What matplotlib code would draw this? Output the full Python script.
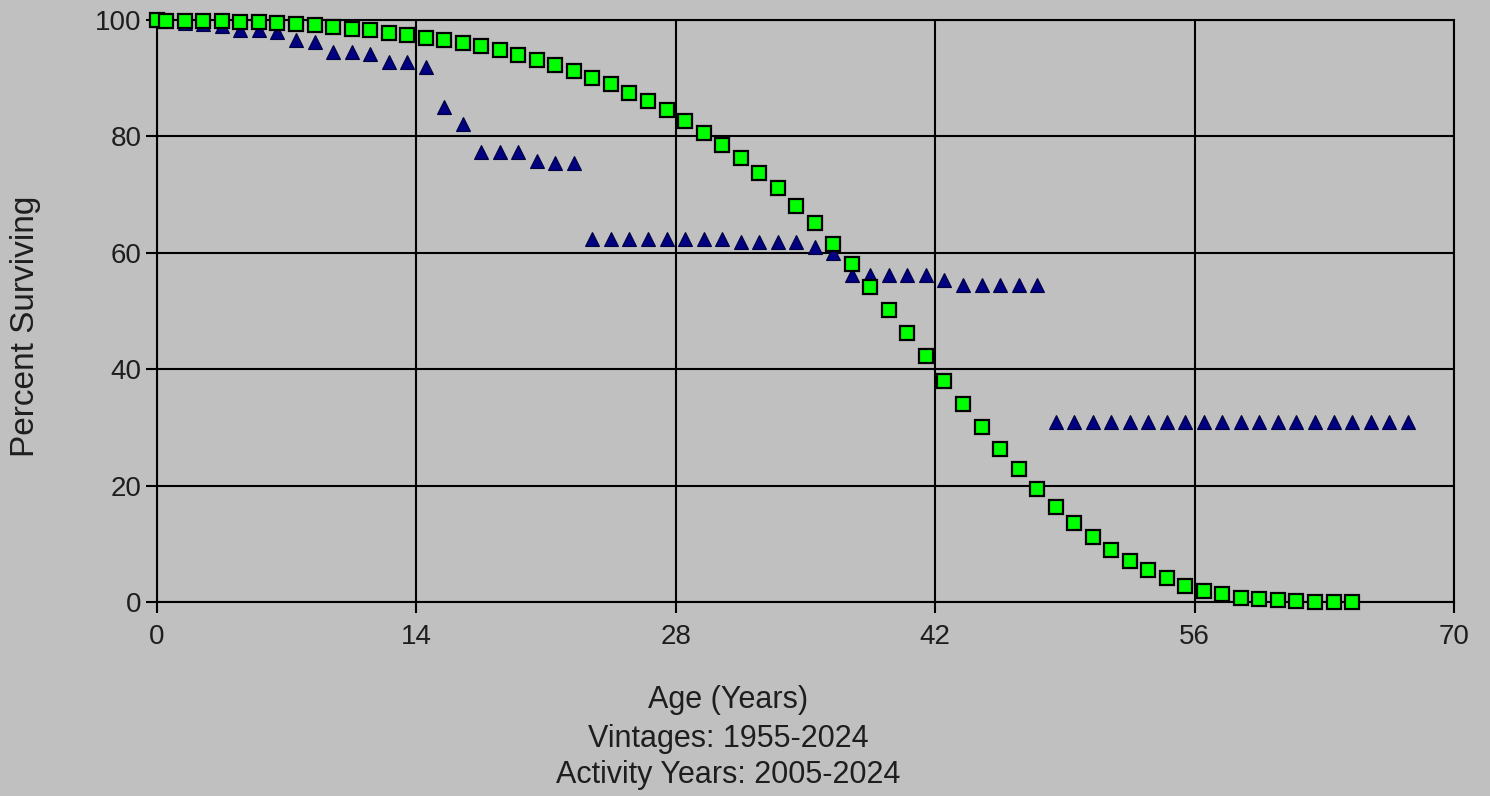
import matplotlib
matplotlib.use("Agg")
from matplotlib import pyplot as plt

# ages (years) at which survival is plotted
ages = [0, 0.5, 1.5, 2.5, 3.5, 4.5, 5.5, 6.5, 7.5, 8.5, 9.5, 10.5, 11.5, 12.5,
        13.5, 14.5, 15.5, 16.5, 17.5, 18.5, 19.5, 20.5, 21.5, 22.5, 23.5, 24.5,
        25.5, 26.5, 27.5, 28.5, 29.5, 30.5, 31.5, 32.5, 33.5, 34.5, 35.5, 36.5,
        37.5, 38.5, 39.5, 40.5, 41.5, 42.5, 43.5, 44.5, 45.5, 46.5, 47.5, 48.5,
        49.5, 50.5, 51.5, 52.5, 53.5, 54.5, 55.5, 56.5, 57.5, 58.5, 59.5, 60.5,
        61.5, 62.5, 63.5, 64.5, 65.5, 66.5, 67.5]

# observed survival (triangles)
observed = [100, 99.8, 99.5, 99.3, 99.0, 98.3, 98.2, 97.9, 96.6, 96.2, 94.5,
            94.5, 94.2, 92.8, 92.7, 91.9, 85.0, 82.2, 77.3, 77.3, 77.3, 75.7,
            75.5, 75.5, 62.3, 62.3, 62.3, 62.3, 62.3, 62.3, 62.3, 62.3, 61.8,
            61.8, 61.8, 61.8, 61.0, 60.0, 56.2, 56.2, 56.2, 56.2, 56.2, 55.3,
            54.5, 54.5, 54.5, 54.5, 54.5, 31.0, 31.0, 31.0, 31.0, 31.0, 31.0,
            31.0, 31.0, 31.0, 31.0, 31.0, 31.0, 31.0, 31.0, 31.0, 31.0, 31.0,
            31.0, 31.0, 31.0]

# fitted survival curve (squares)
fitted = [100, 99.9, 99.9, 99.8, 99.8, 99.7, 99.6, 99.4, 99.3, 99.1, 98.8,
          98.5, 98.2, 97.8, 97.4, 96.9, 96.5, 96.1, 95.6, 94.8, 94.0, 93.2,
          92.3, 91.3, 90.1, 89.0, 87.5, 86.1, 84.5, 82.6, 80.6, 78.6, 76.3,
          73.7, 71.1, 68.0, 65.1, 61.5, 58.0, 54.1, 50.2, 46.2, 42.3, 37.9,
          34.1, 30.1, 26.3, 22.8, 19.5, 16.3, 13.6, 11.1, 8.9, 7.1, 5.5, 4.1,
          2.8, 1.9, 1.3, 0.7, 0.5, 0.3, 0.1, 0.05, 0.0, 0.0]

xticks = [0, 14, 28, 42, 56, 70]
yticks = [0, 20, 40, 60, 80, 100]

plt.rcParams['font.family'] = ['Liberation Sans', 'DejaVu Sans']
bg = '#c0c0c0'
txt = '#1e1e1e'

fig = plt.figure(figsize=(14.9, 7.96), dpi=100, facecolor=bg)
ax = fig.add_axes([0.1054, 0.2437, 0.8704, 0.7312])
ax.set_facecolor(bg)

ax.plot(ages[:len(observed)], observed, linestyle='none', marker='^',
        markersize=10, markerfacecolor='#000080', markeredgecolor='#000040',
        markeredgewidth=0.8, zorder=3, clip_on=False)
ax.plot(ages[:len(fitted)], fitted, linestyle='none', marker='s',
        markersize=10, markerfacecolor='#00ff00', markeredgecolor='black',
        markeredgewidth=1.6, zorder=4, clip_on=False)

ax.set_xlim(0, 70)
ax.set_ylim(0, 100)
ax.set_xticks(xticks)
ax.set_yticks(yticks)
ax.grid(True, color='black', linewidth=1.5)
ax.set_axisbelow(True)
for s in ax.spines.values():
    s.set_color('black')
    s.set_linewidth(1.5)
ax.tick_params(axis='both', length=8, width=1.5, labelsize=20, colors='black',
               labelcolor=txt)
ax.tick_params(axis='x', pad=8)
ax.tick_params(axis='y', pad=3)

fig.text(26 / 1490, 1 - 326 / 796, "Percent Surviving", rotation=90,
         ha='center', va='center', fontsize=24, color=txt)

cx = 728 / 1490
fig.text(cx, 1 - 700 / 796, "Age (Years)", ha='center', va='center', fontsize=22, color=txt)
fig.text(cx, 1 - 739 / 796, "Vintages: 1955-2024", ha='center', va='center', fontsize=22, color=txt)
fig.text(cx, 1 - 775 / 796, "Activity Years: 2005-2024", ha='center', va='center', fontsize=22, color=txt)

fig.savefig("out.png", dpi=100, facecolor=bg)
